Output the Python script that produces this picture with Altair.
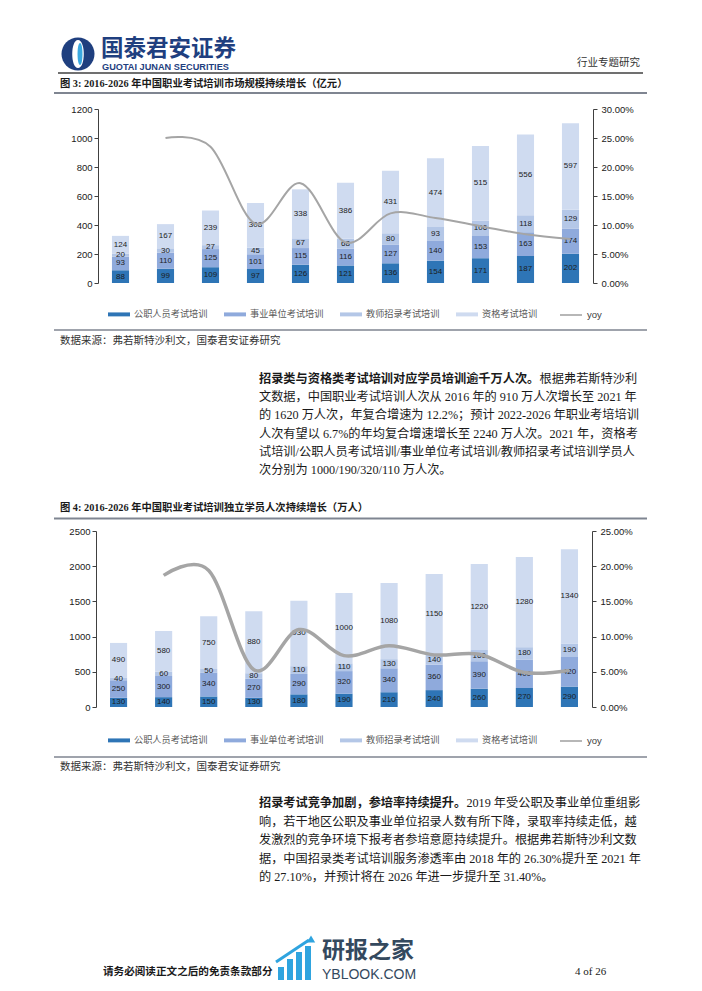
import altair as alt
import pandas as pd

# ---------------- data ----------------
years = ["2016", "2017", "2018", "2019", "2020", "2021", "2022E", "2023E", "2024E", "2025E", "2026E"]
series = ["公职人员考试培训", "事业单位考试培训", "教师招录考试培训", "资格考试培训"]
bar_colors = ["#2E75B6", "#8FAADC", "#B4C7E7", "#CFDBF0"]
yoy_color = "#A5A5A5"

# Figure 3: market size (亿元)
m_gongzhi = [88, 99, 109, 97, 126, 121, 136, 154, 171, 187, 202]
m_shiye = [93, 110, 125, 101, 115, 116, 127, 140, 153, 163, 174]
m_jiaoshi = [20, 30, 27, 45, 67, 68, 80, 93, 106, 118, 129]
m_zige = [124, 167, 239, 308, 338, 386, 431, 474, 515, 556, 597]
m_yoy = [0.250, 0.235, 0.102, 0.172, 0.070, 0.120, 0.112, 0.098, 0.084, 0.076]  # 2017..2026E

# Figure 4: students (万人)
s_gongzhi = [130, 140, 150, 130, 180, 190, 210, 240, 260, 270, 290]
s_shiye = [250, 300, 340, 270, 290, 320, 340, 360, 390, 400, 420]
s_jiaoshi = [40, 60, 50, 80, 110, 110, 130, 140, 160, 180, 190]
s_zige = [490, 580, 750, 880, 930, 1000, 1080, 1150, 1220, 1280, 1340]
s_yoy = [0.187, 0.194, 0.053, 0.110, 0.073, 0.087, 0.074, 0.075, 0.049, 0.052]

# texts
company_cn = "国泰君安证券"
company_en = "GUOTAI JUNAN SECURITIES"
report_type = "行业专题研究"
title3 = "图 3:  2016-2026 年中国职业考试培训市场规模持续增长（亿元）"
title4 = "图 4:  2016-2026 年中国职业考试培训独立学员人次持续增长（万人）"
source = "数据来源：弗若斯特沙利文，国泰君安证券研究"
para1_bold = "招录类与资格类考试培训对应学员培训逾千万人次。"
para1 = [
    "根据弗若斯特沙利",
    "文数据，中国职业考试培训人次从 2016 年的 910 万人次增长至 2021 年",
    "的 1620 万人次，年复合增速为 12.2%；预计 2022-2026 年职业考培培训",
    "人次有望以 6.7%的年均复合增速增长至 2240 万人次。2021 年，资格考",
    "试培训/公职人员考试培训/事业单位考试培训/教师招录考试培训学员人",
    "次分别为 1000/190/320/110 万人次。",
]
para2_bold = "招录考试竞争加剧，参培率持续提升。"
para2 = [
    "2019 年受公职及事业单位重组影",
    "响，若干地区公职及事业单位招录人数有所下降，录取率持续走低，越",
    "发激烈的竞争环境下报考者参培意愿持续提升。根据弗若斯特沙利文数",
    "据，中国招录类考试培训服务渗透率由 2018 年的 26.30%提升至 2021 年",
    "的 27.10%，并预计将在 2026 年进一步提升至 31.40%。",
]
footer_left = "请务必阅读正文之后的免责条款部分"
footer_right = "4 of 26"
wm_cn = "研报之家"
wm_en = "YBLOOK.COM"

# ---------------- style ----------------
W = 686
SANS = "Liberation Sans"
CJK = "Noto Sans CJK SC"
SERIF = "Liberation Serif, Noto Sans CJK SC"
NAVY = "#1F3F7F"
RULE = "#7F8591"
BODY_FS = 12.2

one = pd.DataFrame({"k": [0]})


def txt(x, y, s, size, color="#1A1A1A", weight="normal", font=SERIF, align="left"):
    return alt.Chart(one).mark_text(
        text=s, fontSize=size, color=color, fontWeight=weight, font=font,
        align=align, baseline="middle"
    ).encode(x=alt.value(x), y=alt.value(y))


def hrule(x1, x2, y, color=RULE, w=1.5):
    return alt.Chart(one).mark_rule(color=color, strokeWidth=w).encode(
        x=alt.value(x1), x2=alt.value(x2), y=alt.value(y))


def seg(x1, y1, x2, y2, color, w):
    return alt.Chart(one).mark_rule(color=color, strokeWidth=w).encode(
        x=alt.value(x1), x2=alt.value(x2), y=alt.value(y1), y2=alt.value(y2))


def shape(x, y, path, size, color):
    return alt.Chart(one).mark_point(shape=path, size=size, filled=True, color=color,
                                     opacity=1, strokeWidth=0).encode(
        x=alt.value(x), y=alt.value(y))


ELL = "M0,-1C0.55,-1 0.55,1 0,1C-0.55,1 -0.55,-1 0,-1Z"
ELL_N = "M0,-1C0.3,-1 0.3,1 0,1C-0.3,1 -0.3,-1 0,-1Z"


def bar_panel(vals, yoy, ymax, ystep, pmax, pstep, xr, yr, h, lw, leg_y):
    rows = []
    for si, (name, arr) in enumerate(zip(series, vals)):
        for yv, v in zip(years, arr):
            rows.append({"year": yv, "series": name, "order": si, "value": v})
    df = pd.DataFrame(rows)
    ldf = pd.DataFrame({"year": years[1:], "yoy": yoy, "k": ["yoy"] * len(yoy)})

    xsc = alt.Scale(domain=years, range=xr, paddingInner=0.62, paddingOuter=0.31)
    ysc = alt.Scale(domain=[0, ymax], range=yr, nice=False, zero=True)
    psc = alt.Scale(domain=[0, pmax], range=yr, nice=False, zero=True)

    x_axis = alt.Axis(orient="bottom", offset=yr[0] - h, labelAngle=0, tickBand="extent",
                      tickSize=4, labelPadding=3, labelFont=SANS, labelFontSize=9.5,
                      labelColor="#1A1A1A", domainColor="#404040", tickColor="#404040",
                      grid=False, title=None)
    x_enc = alt.X("year:N", scale=xsc, sort=years, axis=x_axis)
    x_plain = alt.X("year:N", scale=xsc, sort=years, axis=None)

    base = alt.Chart(df).transform_stack(
        stack="value", groupby=["year"], as_=["v0", "v1"],
        sort=[alt.SortField("order", order="ascending")])

    bars = base.mark_bar().encode(
        x=x_enc,
        y=alt.Y("v0:Q", scale=ysc, title=None,
                axis=alt.Axis(orient="left", offset=-xr[0], values=list(range(0, ymax + 1, ystep)),
                              format="d",
                              tickSize=4, labelPadding=2, labelFont=SANS, labelFontSize=9.5,
                              labelColor="#1A1A1A", domainColor="#404040", tickColor="#404040",
                              grid=False, title=None)),
        y2="v1:Q",
        color=alt.Color("series:N", scale=alt.Scale(domain=series, range=bar_colors),
                        legend=alt.Legend(orient="none", legendX=100, legendY=leg_y,
                                          direction="horizontal", title=None,
                                          symbolType="M-1,-0.18H1V0.18H-1Z", symbolSize=484,
                                          symbolStrokeWidth=0, labelFont=CJK,
                                          labelFontSize=9.2, labelColor="#595959",
                                          labelOffset=4, columnPadding=16)),
    )
    labels = base.transform_calculate(mid="(datum.v0 + datum.v1) / 2").mark_text(
        font=SANS, fontSize=8, color="#1C1C1C", baseline="middle"
    ).encode(
        x=x_plain,
        y=alt.Y("mid:Q", scale=ysc, axis=None),
        text="value:Q",
    )
    line = alt.Chart(ldf).mark_line(interpolate="cardinal", strokeWidth=lw).encode(
        x=x_plain,
        y=alt.Y("yoy:Q", scale=psc, title=None,
                axis=alt.Axis(orient="right", offset=-(W - xr[1]), format=".2%",
                              values=[round(i * pstep, 4) for i in range(int(round(pmax / pstep)) + 1)],
                              tickSize=4, labelPadding=4, labelFont=SANS, labelFontSize=9.5,
                              labelColor="#1A1A1A", domainColor="#404040", tickColor="#404040",
                              grid=False, title=None)),
        stroke=alt.Stroke("k:N", scale=alt.Scale(domain=["yoy"], range=[yoy_color]),
                          legend=alt.Legend(orient="none", legendX=551, legendY=leg_y,
                                            direction="horizontal", title=None,
                                            symbolType="stroke", symbolSize=484,
                                            symbolStrokeWidth=1.6, labelFont=SANS,
                                            labelFontSize=9.5, labelColor="#404040",
                                            labelOffset=4)),
    )
    return alt.layer(bars, labels, line).resolve_scale(y="independent").properties(width=W, height=h)


# ---------------- panel A: header ----------------
hA = 92
panelA = alt.layer(
    shape(70, 46, "circle", 33 * 33, NAVY),
    shape(70, 46, ELL, 784, "white"),
    shape(72, 46, ELL_N, 484, "#3BA9E0"),
    txt(93, 41, company_cn, 22.5, color=NAVY, weight="bold", font=CJK),
    txt(94, 58.5, company_en, 9.2, color=NAVY, weight="bold", font=SANS),
    txt(632, 55, report_type, 10.5, color="#333333", font=CJK, align="right"),
    hrule(50, 635, 65, color="#404040", w=1.3),
    txt(52, 76, title3, 10.3, weight="bold"),
    hrule(46, 639, 85, w=2),
).properties(width=W, height=hA)

# ---------------- panel B: figure 3 ----------------
chart3 = bar_panel([m_gongzhi, m_shiye, m_jiaoshi, m_zige], m_yoy, 1200, 200, 0.30, 0.05,
                   [90, 585], [183, 9], 225, 2.0, 203)

# ---------------- panel C: source + paragraph 1 + title 4 ----------------
hC = 195
c_layers = [hrule(46, 639, 5, w=1.5), txt(52, 16, source, 10.5, color="#333333")]
p1_y = [54, 72, 90, 109, 127, 145]
c_layers.append(txt(251, p1_y[0], para1_bold, BODY_FS, weight="bold"))
c_layers.append(txt(251 + len(para1_bold) * BODY_FS, p1_y[0], para1[0], BODY_FS))
for yy, line_s in zip(p1_y[1:], para1[1:]):
    c_layers.append(txt(251, yy, line_s, BODY_FS))
c_layers.append(txt(52, 183, title4, 10.3, weight="bold"))
c_layers.append(hrule(46, 639, 193.5, w=2))
panelC = alt.layer(*c_layers).properties(width=W, height=hC)

# ---------------- panel D: figure 4 ----------------
chart4 = bar_panel([s_gongzhi, s_shiye, s_jiaoshi, s_zige], s_yoy, 2500, 500, 0.25, 0.05,
                   [88, 584], [187, 11], 230, 3.5, 209)

# ---------------- panel E: source + paragraph 2 + footer ----------------
hE = 230
e_layers = [hrule(46, 639, 7, w=1.5), txt(52, 17, source, 10.5, color="#333333")]
p2_y = [53, 72, 90, 109, 127]
e_layers.append(txt(251, p2_y[0], para2_bold, BODY_FS, weight="bold"))
e_layers.append(txt(251 + len(para2_bold) * BODY_FS, p2_y[0], para2[0], BODY_FS))
for yy, line_s in zip(p2_y[1:], para2[1:]):
    e_layers.append(txt(251, yy, line_s, BODY_FS))
WM_BLUE = "#2FA4DF"
e_layers += [
    seg(273, 217, 273, 230, WM_BLUE, 6),
    seg(282, 209, 282, 230, WM_BLUE, 6),
    seg(291, 202, 291, 230, WM_BLUE, 6),
    seg(300, 196, 300, 230, WM_BLUE, 6),
    seg(268, 212, 301, 190, WM_BLUE, 3),
    shape(303, 189, "triangle-up", 70, WM_BLUE),
    txt(314, 201, wm_cn, 23, color="#34495E", weight="bold", font=CJK),
    txt(314, 225, wm_en, 14, color="#34495E", font=SANS),
    txt(95, 222, footer_left, 10.6, weight="bold"),
    txt(567, 222, footer_right, 11, font="Liberation Serif"),
]
panelE = alt.layer(*e_layers).properties(width=W, height=hE)

chart = alt.vconcat(panelA, chart3, panelC, chart4, panelE, spacing=0, bounds="flush").resolve_scale(
    color="independent", stroke="independent"
).properties(padding=0).configure_view(stroke=None)

chart.save("out.html", embed_options={"renderer": "svg", "actions": False})
